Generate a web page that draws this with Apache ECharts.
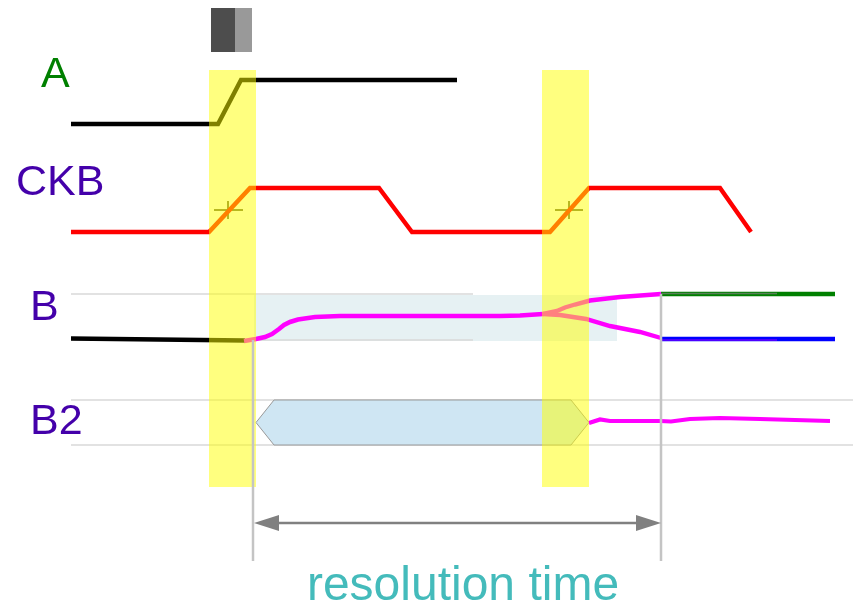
<!DOCTYPE html>
<html><head><meta charset="utf-8">
<style>html,body{margin:0;padding:0;background:#fff}#c{width:853px;height:604px}</style>
<script src="https://cdn.jsdelivr.net/npm/echarts@6/dist/echarts.min.js"></script>
</head><body><div id="c"></div>
<script>
// Waveforms (time axis, level axis)
const signalA = [[71,124],[218,124],[241,80],[457,80]];
const signalCKB = [[71,232],[209,232],[250,188],[379,188],[412,232],[550,232],[589,188],[720,188],[751,232]];
const signalBInitial = [[71,338.5],[245,340.5]];
const signalBMeta = [[244,341],[256,339],[265,337],[272,334],[279,329],[284,325],[290,322],[298,319.5],[315,317],[340,316],[500,316],[520,315.5],[543,314]];
const signalBUp = [[543,314],[557,311],[565,307.5],[575,304.5],[590,300.5],[620,297],[661,294]];
const signalBDown = [[543,314],[560,315],[586,319],[610,326],[640,332],[661,338]];
const signalBHigh = [[661,294],[835,294]];
const signalBLow = [[661,339],[835,339]];
const signalB2 = [[589,423],[600,419.5],[610,421],[660,421],[671,421.5],[690,419],[720,418],[760,419],[830,421]];
const guideB = [[[71,294],[473,294]],[[71,340],[473,340]]];
const guideB2 = [[[71,400],[853,400]],[[71,445],[853,445]]];
const overlayHigh = [[661,293.5],[777,293.5]];
const overlayLow = [[661,340],[777,340]];
const markers = [[253,340],[253,561]];
const markers2 = [[661,294],[661,561]];
const crossA = [[[214,210],[243,210]],[[228,201],[228,219]]];
const crossB = [[[555,210],[583,210]],[[569,201],[569,219]]];
const arrowShaft = [[270,523],[645,523]];
const arrowLeft = [[254,523],[279,515],[279,531]];
const arrowRight = [[661,523],[636,515],[636,531]];
const windowA = [[209,70],[256,70],[256,487],[209,487]];
const windowB = [[542,70],[589,70],[589,487],[542,487]];
const swatchDark = [[211,8],[235,8],[235,52],[211,52]];
const swatchLight = [[235,8],[252,8],[252,52],[235,52]];
const metaBand = [[254,295],[617,295],[617,341],[254,341]];
const b2Hexagon = [[256,422.5],[274,400],[571,400],[589,422.5],[571,445],[274,445]];
const labels = [
  {text:'A', at:[41,75], color:'#008000', size:43, align:'left'},
  {text:'CKB', at:[16,183], color:'#4400aa', size:43, align:'left'},
  {text:'B', at:[30,308], color:'#4400aa', size:43, align:'left'},
  {text:'B2', at:[30,422], color:'#4400aa', size:43, align:'left'},
  {text:'resolution time', at:[463,587], color:'#44bbbb', size:48, align:'center'}
];

function line(data,color,width,z,opacity){
  return {type:'line',data,showSymbol:false,symbol:'none',z,silent:true,animation:false,clip:false,
    lineStyle:{color,width,cap:'butt',join:'miter',opacity:opacity==null?1:opacity}};
}
function poly(points,style,z){
  return {type:'custom',data:points,z,silent:true,animation:false,clip:false,
    renderItem(params,api){
      if(params.dataIndex!==0) return null;
      return {type:'polygon',shape:{points:points.map(p=>api.coord(p))},style};
    }};
}
const textSeries = {type:'custom',data:labels.map(l=>l.at),z:20,silent:true,animation:false,clip:false,
  renderItem(params,api){
    const l=labels[params.dataIndex], c=api.coord(l.at);
    return {type:'text',x:c[0],y:c[1],style:{text:l.text,fill:l.color,
      font:l.size+'px "Liberation Sans", Arial, sans-serif',textAlign:l.align,textVerticalAlign:'middle'}};
  }};

const series = [
  poly(metaBand,{fill:'#e6f1f3'},1),
  ...guideB.map(d=>line(d,'#d8d8d8',1.5,2)),
  ...guideB2.map(d=>line(d,'#d8d8d8',1.5,2)),
  poly(b2Hexagon,{fill:'#cfe6f3',stroke:'#999999',lineWidth:1},3),
  poly(swatchDark,{fill:'#4d4d4d'},3),
  poly(swatchLight,{fill:'#999999'},3),
  ...crossA.map(d=>line(d,'#404000',1.5,4)),
  ...crossB.map(d=>line(d,'#404000',1.5,4)),
  line(signalA,'#000000',4.4,5),
  line(signalCKB,'#ff0000',4.4,5),
  line(signalBInitial,'#000000',4.4,5),
  line(signalBMeta,'#ff00ff',4.6,5),
  line(signalBUp,'#ff00ff',4.4,5),
  line(signalBDown,'#ff00ff',4.4,5),
  line(signalB2,'#ff00ff',4.2,5),
  line(signalBHigh,'#008000',4.4,5),
  line(signalBLow,'#0000ff',4.4,5),
  line(overlayHigh,'#808080',1.5,6,0.7),
  line(overlayLow,'#ff00ff',1,6,0.6),
  poly(windowA,{fill:'rgba(255,255,0,0.5)'},8),
  poly(windowB,{fill:'rgba(255,255,0,0.5)'},8),
  line(markers,'#c4c4c4',2.5,9),
  line(markers2,'#c4c4c4',2.5,9),
  line(arrowShaft,'#808080',2.5,10),
  poly(arrowLeft,{fill:'#808080'},10),
  poly(arrowRight,{fill:'#808080'},10),
  textSeries
];

const chart = echarts.init(document.getElementById('c'),null,{renderer:'canvas'});
chart.setOption({
  animation:false,
  backgroundColor:'#ffffff',
  grid:{left:0,right:0,top:0,bottom:0},
  xAxis:{type:'value',min:0,max:853,show:false},
  yAxis:{type:'value',min:0,max:604,inverse:true,show:false},
  series
});
</script></body></html>
